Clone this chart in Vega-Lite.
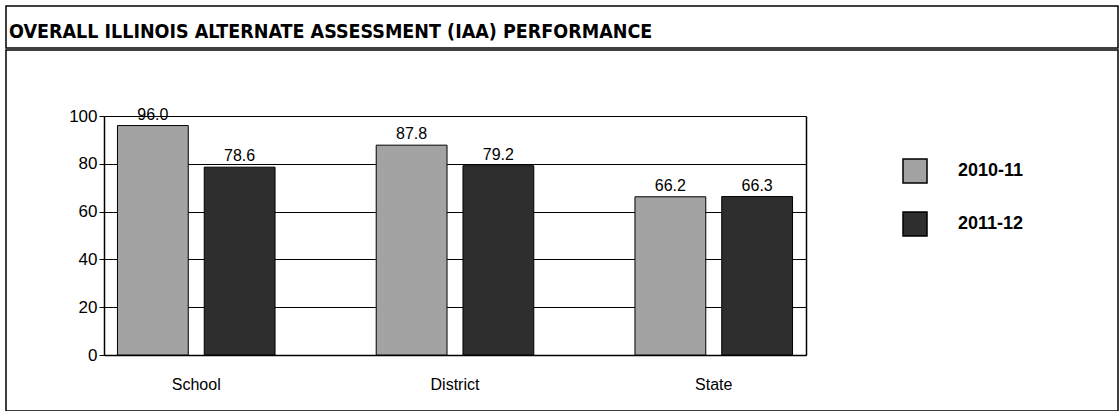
{
  "$schema": "https://vega.github.io/schema/vega-lite/v6.json",
  "autosize": {"type": "pad"},
  "padding": {"left": 5, "top": 5, "right": 0, "bottom": 0},
  "background": "white",
  "spacing": 0,
  "config": {
    "view": {"stroke": "black", "strokeWidth": 1.5},
    "font": "Liberation Sans",
    "concat": {"spacing": 0}
  },
  "vconcat": [
    {
      "width": 1112,
      "height": 42,
      "data": {"values": [{}]},
      "mark": {"type": "rect", "fill": "white", "stroke": "black", "strokeWidth": 1.5},
      "encoding": {},
      "title": {
        "text": "OVERALL ILLINOIS ALTERNATE ASSESSMENT (IAA) PERFORMANCE",
        "anchor": "start",
        "frame": "group",
        "offset": -52,
        "dx": 3,
        "font": "DejaVu Sans Condensed",
        "fontSize": 19.5,
        "fontWeight": "bold",
        "color": "black",
        "baseline": "alphabetic"
      }
    },
    {
      "width": 1112,
      "height": 361,
      "data": {
        "values": [
          {"group": "School", "year": "2010-11", "value": 96.0},
          {"group": "School", "year": "2011-12", "value": 78.6},
          {"group": "District", "year": "2010-11", "value": 87.8},
          {"group": "District", "year": "2011-12", "value": 79.2},
          {"group": "State", "year": "2010-11", "value": 66.2},
          {"group": "State", "year": "2011-12", "value": 66.3}
        ]
      },
      "layer": [
        {
          "mark": {"type": "bar", "stroke": "black", "strokeWidth": 1},
          "encoding": {
            "x": {
              "field": "group", "type": "nominal",
              "sort": ["School", "District", "State"],
              "scale": {"range": [98, 800], "paddingInner": 0.391, "paddingOuter": 0.052},
              "axis": {"title": null, "orient": "bottom", "offset": -56, "domainColor": "black", "domainWidth": 1.5, "ticks": false, "labelAngle": 0, "labelFontSize": 16, "labelColor": "black", "labelPadding": 21, "grid": false}
            },
            "xOffset": {"field": "year", "type": "nominal", "scale": {"paddingInner": 0.184, "paddingOuter": 0}},
            "y": {
              "field": "value", "type": "quantitative",
              "scale": {"domain": [0, 100], "range": [305, 66], "nice": false},
              "axis": {"title": null, "orient": "left", "offset": -98, "values": [0, 20, 40, 60, 80, 100], "grid": true, "gridColor": "black", "gridWidth": 1, "gridOpacity": 1, "domainColor": "black", "domainWidth": 1.5, "tickColor": "black", "tickSize": 5, "tickWidth": 1, "labelFontSize": 17, "labelColor": "black", "labelPadding": 2}
            },
            "color": {
              "field": "year", "type": "nominal",
              "scale": {"domain": ["2010-11", "2011-12"], "range": ["#a3a3a3", "#2e2e2e"]},
              "legend": {"orient": "none", "legendX": 896, "legendY": 152, "title": null, "symbolType": "square", "symbolSize": 576, "symbolStrokeColor": "black", "symbolStrokeWidth": 1.5, "symbolOpacity": 1, "labelFontSize": 18, "labelFontWeight": "bold", "labelColor": "black", "labelOffset": 30, "rowPadding": 23, "padding": 0}
            }
          }
        },
        {
          "mark": {"type": "text", "baseline": "alphabetic", "dy": -6, "fontSize": 16, "color": "black"},
          "encoding": {
            "x": {"field": "group", "type": "nominal", "sort": ["School", "District", "State"]},
            "xOffset": {"field": "year", "type": "nominal"},
            "y": {
              "field": "value", "type": "quantitative",
              "axis": {"title": null, "orient": "right", "offset": -312, "labels": false, "ticks": false, "grid": false, "domainColor": "black", "domainWidth": 1.5}
            },
            "text": {"field": "value", "type": "quantitative", "format": ".1f"}
          }
        }
      ],
      "resolve": {"axis": {"y": "independent"}}
    }
  ]
}
